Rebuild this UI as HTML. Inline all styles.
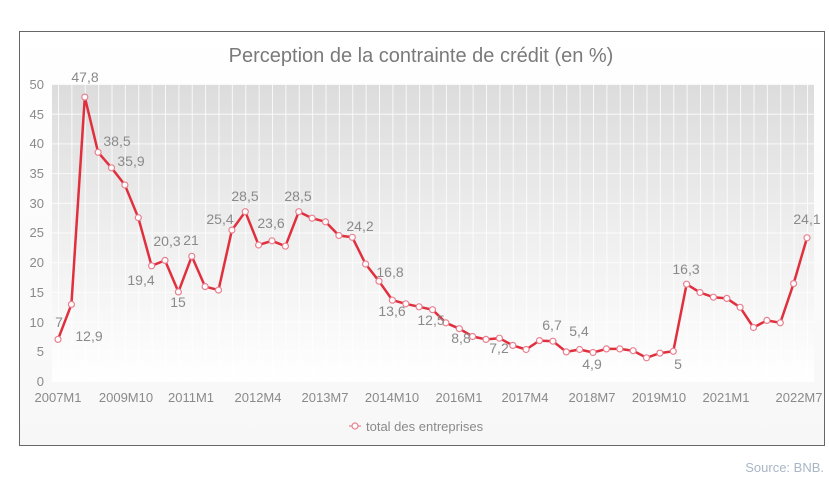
<!DOCTYPE html>
<html><head><meta charset="utf-8"><style>
html,body{margin:0;padding:0;background:#fff;}
svg{display:block;font-family:"Liberation Sans",sans-serif;}
</style></head><body>
<svg width="829" height="486" viewBox="0 0 829 486" xmlns="http://www.w3.org/2000/svg">
<defs>
<linearGradient id="pg" x1="0" y1="0" x2="0" y2="1">
<stop offset="0" stop-color="#dcdcdc"/>
<stop offset="0.55" stop-color="#f0f0f0"/>
<stop offset="1" stop-color="#ffffff"/>
</linearGradient>
<linearGradient id="fg" x1="0" y1="0" x2="0" y2="1">
<stop offset="0" stop-color="#ffffff"/>
<stop offset="1" stop-color="#f7f7f7"/>
</linearGradient>
<pattern id="vg" x="58" y="0" width="13.375" height="486" patternUnits="userSpaceOnUse">
<rect x="0" y="0" width="1" height="486" fill="#fff" opacity="0.8"/>
</pattern>
<pattern id="hg" x="0" y="84" width="829" height="29.7" patternUnits="userSpaceOnUse">
<rect x="0" y="0" width="829" height="1" fill="#fff" opacity="0.8"/>
</pattern>
</defs>
<rect x="19.5" y="31.5" width="805" height="414" fill="url(#fg)" stroke="#666" stroke-width="1"/>
<text x="421" y="62" font-size="20" fill="#7a7a7a" text-anchor="middle">Perception de la contrainte de crédit (en %)</text>
<rect x="52" y="84" width="762" height="297" fill="url(#pg)"/>
<rect x="52" y="84" width="762" height="297" fill="url(#vg)"/>
<rect x="52" y="84" width="762" height="298" fill="url(#hg)"/>
<g font-size="13" fill="#8a8a8a" text-anchor="end">
<text x="44" y="386">0</text><text x="44" y="356">5</text><text x="44" y="327">10</text><text x="44" y="297">15</text><text x="44" y="267">20</text><text x="44" y="237">25</text><text x="44" y="208">30</text><text x="44" y="178">35</text><text x="44" y="148">40</text><text x="44" y="119">45</text><text x="44" y="89">50</text>
</g>
<g font-size="13" fill="#8a8a8a" text-anchor="middle">
<text x="58" y="402">2007M1</text><text x="126" y="402">2009M10</text><text x="191" y="402">2011M1</text><text x="258" y="402">2012M4</text><text x="325" y="402">2013M7</text><text x="392" y="402">2014M10</text><text x="459" y="402">2016M1</text><text x="525" y="402">2017M4</text><text x="592" y="402">2018M7</text><text x="659" y="402">2019M10</text><text x="726" y="402">2021M1</text><text x="799" y="402">2022M7</text>
</g>
<polyline fill="none" stroke="#e0303e" stroke-width="2.5" stroke-linejoin="round" points="58,339.4 71.4,304.4 84.8,97.1 98.1,152.3 111.5,167.8 124.9,185 138.3,217.7 151.6,265.8 165,260.4 178.4,291.9 191.8,256.3 205.1,286.6 218.5,290.1 231.9,230.1 245.3,211.7 258.6,245 272,240.8 285.4,246.2 298.8,211.7 312.1,218.2 325.5,221.8 338.9,235.5 352.3,237.3 365.6,264 379,281.2 392.4,300.2 405.8,303.8 419.1,306.8 432.5,309.7 445.9,322.8 459.3,328.7 472.6,336.5 486,339.4 499.4,338.2 512.8,345.4 526.1,349.5 539.5,340.6 552.9,341.2 566.3,351.9 579.6,349.5 593,352.5 606.4,348.9 619.8,348.9 633.1,350.7 646.5,357.8 659.9,353.1 673.3,351.3 686.6,284.2 700,292.5 713.4,297.2 726.8,298.4 740.1,307.3 753.5,327.5 766.9,320.4 780.3,322.8 793.6,283.6 807,237.8"/>
<g fill="#fff" stroke="#e88090" stroke-width="1.2">
<circle cx="58" cy="339.4" r="3"/><circle cx="71.4" cy="304.4" r="3"/><circle cx="84.8" cy="97.1" r="3"/><circle cx="98.1" cy="152.3" r="3"/><circle cx="111.5" cy="167.8" r="3"/><circle cx="124.9" cy="185" r="3"/><circle cx="138.3" cy="217.7" r="3"/><circle cx="151.6" cy="265.8" r="3"/><circle cx="165" cy="260.4" r="3"/><circle cx="178.4" cy="291.9" r="3"/><circle cx="191.8" cy="256.3" r="3"/><circle cx="205.1" cy="286.6" r="3"/><circle cx="218.5" cy="290.1" r="3"/><circle cx="231.9" cy="230.1" r="3"/><circle cx="245.3" cy="211.7" r="3"/><circle cx="258.6" cy="245" r="3"/><circle cx="272" cy="240.8" r="3"/><circle cx="285.4" cy="246.2" r="3"/><circle cx="298.8" cy="211.7" r="3"/><circle cx="312.1" cy="218.2" r="3"/><circle cx="325.5" cy="221.8" r="3"/><circle cx="338.9" cy="235.5" r="3"/><circle cx="352.3" cy="237.3" r="3"/><circle cx="365.6" cy="264" r="3"/><circle cx="379" cy="281.2" r="3"/><circle cx="392.4" cy="300.2" r="3"/><circle cx="405.8" cy="303.8" r="3"/><circle cx="419.1" cy="306.8" r="3"/><circle cx="432.5" cy="309.7" r="3"/><circle cx="445.9" cy="322.8" r="3"/><circle cx="459.3" cy="328.7" r="3"/><circle cx="472.6" cy="336.5" r="3"/><circle cx="486" cy="339.4" r="3"/><circle cx="499.4" cy="338.2" r="3"/><circle cx="512.8" cy="345.4" r="3"/><circle cx="526.1" cy="349.5" r="3"/><circle cx="539.5" cy="340.6" r="3"/><circle cx="552.9" cy="341.2" r="3"/><circle cx="566.3" cy="351.9" r="3"/><circle cx="579.6" cy="349.5" r="3"/><circle cx="593" cy="352.5" r="3"/><circle cx="606.4" cy="348.9" r="3"/><circle cx="619.8" cy="348.9" r="3"/><circle cx="633.1" cy="350.7" r="3"/><circle cx="646.5" cy="357.8" r="3"/><circle cx="659.9" cy="353.1" r="3"/><circle cx="673.3" cy="351.3" r="3"/><circle cx="686.6" cy="284.2" r="3"/><circle cx="700" cy="292.5" r="3"/><circle cx="713.4" cy="297.2" r="3"/><circle cx="726.8" cy="298.4" r="3"/><circle cx="740.1" cy="307.3" r="3"/><circle cx="753.5" cy="327.5" r="3"/><circle cx="766.9" cy="320.4" r="3"/><circle cx="780.3" cy="322.8" r="3"/><circle cx="793.6" cy="283.6" r="3"/><circle cx="807" cy="237.8" r="3"/>
</g>
<g font-size="14" fill="#8a8a8a" text-anchor="middle">
<text x="59" y="327">7</text><text x="89" y="341">12,9</text><text x="85" y="82">47,8</text><text x="117" y="146">38,5</text><text x="131" y="166">35,9</text>
<text x="141" y="285">19,4</text><text x="167" y="246">20,3</text><text x="178" y="307">15</text><text x="191" y="245">21</text>
<text x="220" y="224">25,4</text><text x="245" y="201">28,5</text><text x="271" y="228">23,6</text><text x="298" y="201">28,5</text><text x="360" y="231">24,2</text>
<text x="390" y="277">16,8</text><text x="392" y="316">13,6</text><text x="431" y="325">12,5</text><text x="461" y="343">8,8</text><text x="499" y="353">7,2</text>
<text x="552" y="330">6,7</text><text x="579" y="336">5,4</text><text x="592" y="369">4,9</text><text x="678" y="369">5</text><text x="686" y="274">16,3</text><text x="807" y="224">24,1</text>
</g>
<g>
<line x1="349" y1="426" x2="361" y2="426" stroke="#e88090" stroke-width="1.2"/>
<circle cx="355" cy="426" r="3" fill="#fff" stroke="#e88090" stroke-width="1.2"/>
<text x="366" y="431" font-size="13" fill="#8a8a8a">total des entreprises</text>
</g>
<text x="824" y="472" font-size="13" fill="#a8b6c6" text-anchor="end">Source: BNB.</text>
</svg>
</body></html>
